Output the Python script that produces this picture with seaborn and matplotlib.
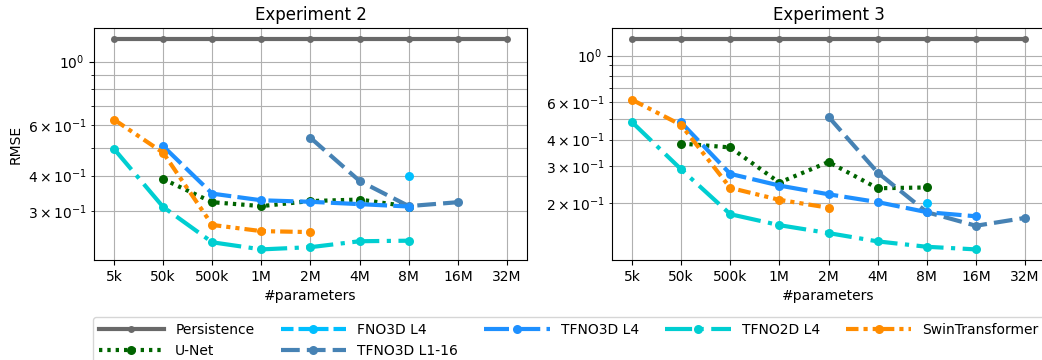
import numpy as np
import pandas as pd
import matplotlib
matplotlib.use("Agg")
import matplotlib.pyplot as plt
import matplotlib.ticker as mticker
import seaborn as sns

# x categories (#parameters)
params = ["5k", "50k", "500k", "1M", "2M", "4M", "8M", "16M", "32M"]
nan = np.nan

# Experiment 2 RMSE, one value per entry of params (nan = not run)
exp2_persistence = [1.2, 1.2, 1.2, 1.2, 1.2, 1.2, 1.2, 1.2, 1.2]
exp2_unet = [nan, 0.389, 0.323, 0.313, 0.326, 0.330, 0.312, nan, nan]
exp2_fno3d_l4 = [nan, nan, nan, nan, nan, nan, 0.398, nan, nan]
exp2_tfno3d_l116 = [nan, nan, nan, nan, 0.542, 0.383, 0.313, 0.323, nan]
exp2_tfno3d_l4 = [nan, 0.507, 0.346, 0.328, 0.324, 0.318, 0.312, nan, nan]
exp2_tfno2d_l4 = [0.496, 0.311, 0.234, 0.221, 0.225, 0.236, 0.237, nan, nan]
exp2_swin = [0.628, 0.481, 0.269, 0.256, 0.254, nan, nan, nan, nan]

# Experiment 3 RMSE
exp3_persistence = [1.2, 1.2, 1.2, 1.2, 1.2, 1.2, 1.2, 1.2, 1.2]
exp3_unet = [nan, 0.383, 0.367, 0.250, 0.313, 0.235, 0.237, nan, nan]
exp3_fno3d_l4 = [nan, nan, nan, nan, nan, nan, 0.200, nan, nan]
exp3_tfno3d_l116 = [nan, nan, nan, nan, 0.513, 0.279, 0.181, 0.156, 0.170]
exp3_tfno3d_l4 = [nan, 0.482, 0.275, 0.242, 0.220, 0.202, 0.181, 0.173, nan]
exp3_tfno2d_l4 = [0.484, 0.289, 0.177, 0.157, 0.144, 0.1315, 0.124, 0.1205, nan]
exp3_swin = [0.618, 0.469, 0.236, 0.207, 0.190, nan, nan, nan, nan]

models = ["Persistence", "U-Net", "FNO3D L4", "TFNO3D L1-16",
          "TFNO3D L4", "TFNO2D L4", "SwinTransformer"]

experiments = {
    "Experiment 2": [exp2_persistence, exp2_unet, exp2_fno3d_l4, exp2_tfno3d_l116,
                     exp2_tfno3d_l4, exp2_tfno2d_l4, exp2_swin],
    "Experiment 3": [exp3_persistence, exp3_unet, exp3_fno3d_l4, exp3_tfno3d_l116,
                     exp3_tfno3d_l4, exp3_tfno2d_l4, exp3_swin],
}

colors = {
    "Persistence": "dimgray",
    "U-Net": "darkgreen",
    "FNO3D L4": "deepskyblue",
    "TFNO3D L1-16": "steelblue",
    "TFNO3D L4": "dodgerblue",
    "TFNO2D L4": "darkturquoise",
    "SwinTransformer": "darkorange",
}
linestyles = {
    "Persistence": "-",
    "U-Net": (0, (0.8, 1.2)),
    "FNO3D L4": (0, (3, 1.2)),
    "TFNO3D L1-16": (0, (4.5, 1.7)),
    "TFNO3D L4": (0, (6, 1.5)),
    "TFNO2D L4": (0, (6.5, 1.8, 1, 1.8)),
    "SwinTransformer": (0, (3, 1.2, 1, 1.2, 1, 1.2)),
}

# long table
rows = []
for exp, series in experiments.items():
    for model, vals in zip(models, series):
        for i, v in enumerate(vals):
            if not np.isnan(v):
                rows.append([exp, model, i, v])
df = pd.DataFrame(rows, columns=["experiment", "model", "pos", "rmse"])

fig, axes = plt.subplots(1, 2, figsize=(10.42, 3.6), dpi=100)
fig.subplots_adjust(left=0.0905, right=1.0026, bottom=0.278, top=0.921, wspace=0.198)

for ax, exp in zip(axes, experiments):
    for model in models:
        sub = df[(df.experiment == exp) & (df.model == model)]
        ms = 5 if model == "Persistence" else 6.5
        sns.lineplot(data=sub, x="pos", y="rmse", ax=ax, color=colors[model],
                     linestyle=linestyles[model], linewidth=3, marker="o",
                     markersize=ms, markeredgewidth=0, label=model, legend=False)
    ax.set_yscale("log")
    # label 2, 3, 4, 6 x 10^-1 like the original
    ax.yaxis.set_minor_formatter(
        mticker.LogFormatterSciNotation(labelOnlyBase=False, minor_thresholds=(2, 0.4)))
    ax.set_xticks(range(len(params)))
    ax.set_xticklabels(params)
    ax.grid(True, which="both")
    ax.set_title(exp)
    ax.set_xlabel("#parameters")
    ax.set_ylabel("")
axes[0].set_ylabel("RMSE")

handles, labels = axes[0].get_legend_handles_labels()
fig.legend(handles, labels, loc="upper left", bbox_to_anchor=(0.0895, 0.1186),
           ncol=5, handlelength=4.7, columnspacing=1.9, borderaxespad=0)

fig.savefig("out.png", dpi=100)
